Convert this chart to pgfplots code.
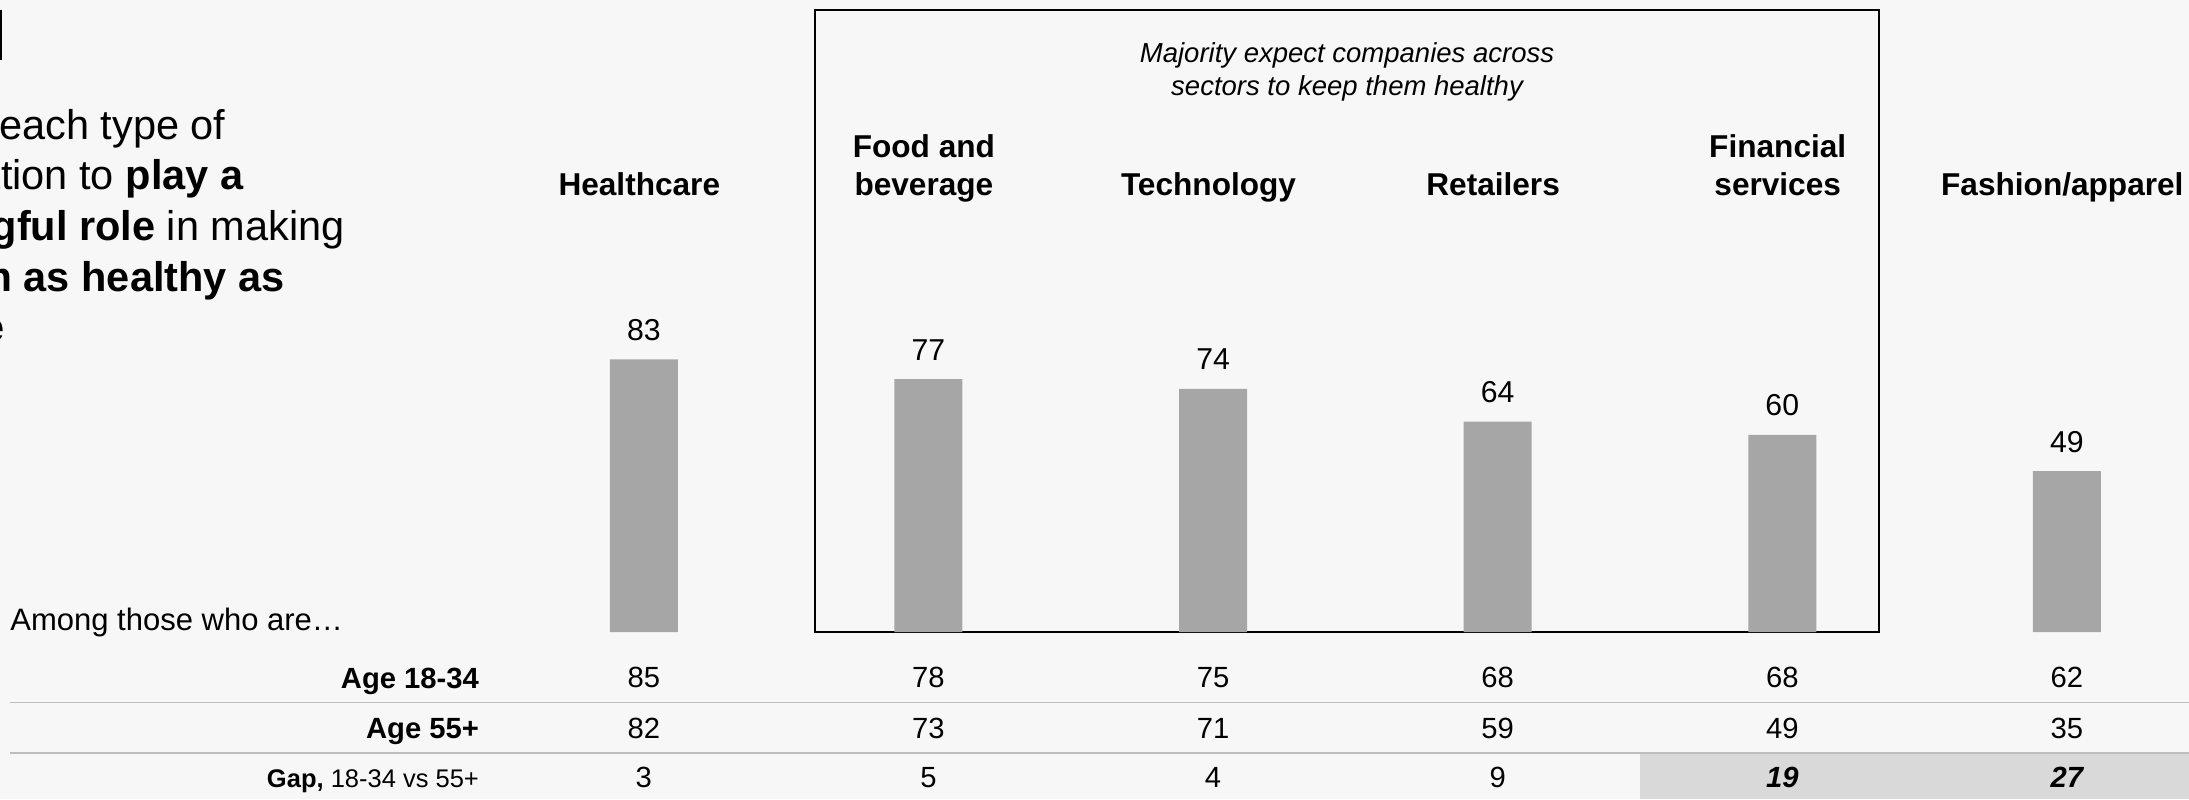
\documentclass[border=0pt]{standalone}
\usepackage{pgfplots}
\pgfplotsset{compat=1.18}
\usepackage{fontspec}
\setmainfont{Liberation Sans}

\definecolor{bg}{HTML}{F7F7F7}
\definecolor{barc}{HTML}{A6A6A6}
\definecolor{hl}{HTML}{D9D9D9}
\definecolor{rowline}{HTML}{BDBDBD}

% 1 px of the reference = 0.5pt
\newcommand{\titlefont}{\fontsize{20.75}{25}\selectfont}
\newcommand{\catfont}{\fontsize{15.8}{19}\selectfont\bfseries}
\newcommand{\notefont}{\fontsize{13.75}{17}\selectfont\itshape}
\newcommand{\valfont}{\fontsize{15.1}{18}\selectfont}
\newcommand{\rowfont}{\fontsize{14.6}{17}\selectfont}

\begin{document}
\begin{tikzpicture}
\useasboundingbox (0,0) rectangle (1094.5pt,399.5pt);
\clip (0,0) rectangle (1094.5pt,399.5pt);
\fill[bg] (0,0) rectangle (1094.5pt,399.5pt);

\begin{scope}[x=0.5pt,y=-0.5pt,yshift=399.5pt]
  % highlight of the gap cells
  \fill[hl] (1640,753.5) rectangle (2189,799);
  % table rules
  \draw[rowline,line width=0.8pt] (10,702.3) -- (2189,702.3);
  \draw[rowline,line width=0.8pt] (10,752.7) -- (2189,752.7);
  % frame round the middle sectors
  \draw[black,line width=1pt] (815.3,10) rectangle (1879,632);
  \fill[black] (0,10) rectangle (2,60);

  % title (cut at the left edge)
  \begin{scope}[every node/.style={inner sep=0pt,anchor=base east,font=\titlefont}]
    \node at (226,139.3) {Share of respondents who expect each type of};
    \node at (244,190) {organization to \textbf{play a}};
    \node at (345,240.7) {\textbf{meaningful role} in making};
    \node at (285,291.7) {\textbf{them as healthy as}};
    \node at (5,341.7) {\textbf{possible}};
  \end{scope}

  % note in the frame
  \node[inner sep=0pt,anchor=base,font=\notefont] at (1347,62.3) {Majority expect companies across};
  \node[inner sep=0pt,anchor=base,font=\notefont] at (1347,96) {sectors to keep them healthy};

  % category names
  \begin{scope}[every node/.style={inner sep=0pt,anchor=base,font=\catfont}]
    \node at (639.3,196) {Healthcare};
    \node at (923.9,157.5) {Food and};
    \node at (923.9,195.5) {beverage};
    \node at (1208.5,196) {Technology};
    \node at (1493.1,196) {Retailers};
    \node at (1777.7,158) {Financial};
    \node at (1777.7,195.5) {services};
    \node at (2062.3,196) {Fashion/apparel};
  \end{scope}

  % table labels
  \node[inner sep=0pt,anchor=base west,font=\fontsize{15.5}{18}\selectfont] at (10,630) {Among those who are…};
  \node[inner sep=0pt,anchor=base east,font=\rowfont\bfseries] at (479.3,688) {Age 18-34};
  \node[inner sep=0pt,anchor=base east,font=\rowfont\bfseries] at (479.3,738.3) {Age 55+};
  \node[inner sep=0pt,anchor=base east,font=\fontsize{12.75}{15}\selectfont] at (479.3,787.7) {\textbf{Gap,} 18-34 vs 55+};
\end{scope}

\begin{axis}[
    at={(0,0)}, anchor=south west,
    scale only axis,
    width=1094.5pt, height=399.5pt,
    xmin=-2.2621, xmax=5.4294,
    ymin=-50.83, ymax=192.36,
    hide axis,
    /pgf/number format/assume math mode=true,
]
  % share expecting a meaningful role, all respondents
  \addplot[ybar, bar width=34pt, bar shift=0pt, fill=barc, draw=none,
           nodes near coords,
           nodes near coords style={font=\valfont, anchor=base, yshift=9.5pt}]
    coordinates {(0,83) (1,77) (2,74) (3,64) (4,60) (5,49)};

  % age 18-34
  \addplot[only marks, mark=none, point meta=explicit symbolic,
           nodes near coords, nodes near coords style={font=\rowfont, anchor=base}]
    coordinates {(0,-17.04)[85] (1,-17.04)[78] (2,-17.04)[75] (3,-17.04)[68] (4,-17.04)[68] (5,-17.04)[62]};
  % age 55+
  \addplot[only marks, mark=none, point meta=explicit symbolic,
           nodes near coords, nodes near coords style={font=\rowfont, anchor=base}]
    coordinates {(0,-32.35)[82] (1,-32.35)[73] (2,-32.35)[71] (3,-32.35)[59] (4,-32.35)[49] (5,-32.35)[35]};
  % gap
  \addplot[only marks, mark=none, point meta=explicit symbolic,
           nodes near coords, nodes near coords style={font=\rowfont, anchor=base}]
    coordinates {(0,-47.39)[3] (1,-47.39)[5] (2,-47.39)[4] (3,-47.39)[9]};
  \addplot[only marks, mark=none, point meta=explicit symbolic,
           nodes near coords, nodes near coords style={font=\rowfont\bfseries\itshape, anchor=base}]
    coordinates {(4,-47.39)[19] (5,-47.39)[27]};
\end{axis}
\end{tikzpicture}
\end{document}
